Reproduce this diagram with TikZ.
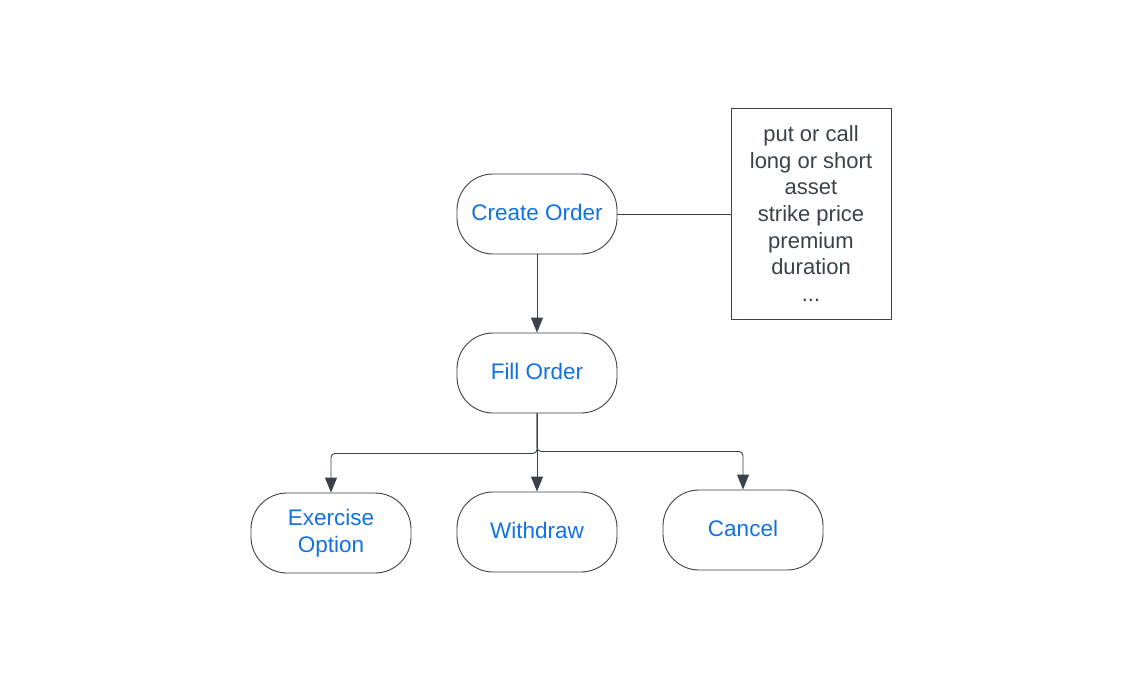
\documentclass[tikz,border=0pt]{standalone}
\usepackage{fontspec}
\setmainfont{Liberation Sans}
\usetikzlibrary{arrows.meta}
\definecolor{txtblue}{HTML}{1071E5}
\definecolor{ink}{HTML}{3A414A}
\begin{document}
\begin{tikzpicture}[x=1pt,y=-1pt,
  term/.style={draw=ink,line width=0.9pt,rounded corners=36pt,minimum width=160pt,minimum height=80pt,
    text=txtblue,font=\fontsize{22.5}{27}\selectfont,align=center,inner sep=0pt},
  conn/.style={draw=ink,line width=0.9pt,-{Triangle[length=15pt,width=12pt]},rounded corners=4pt},
  note/.style={draw=ink,line width=0.8pt,minimum width=160pt,minimum height=211pt,text=ink,
    font=\fontsize{22}{26.7}\selectfont,align=center,inner sep=0pt}]
\useasboundingbox (0,0) rectangle (1142,695);
\node[term] (create) at (537,214) {\raisebox{2.5pt}{Create Order}};
\node[term] (fill) at (537,373) {\raisebox{2.5pt}{Fill Order}};
\node[term] (exer) at (331,533) {Exercise\\Option};
\node[term] (with) at (537,532) {\raisebox{2.5pt}{Withdraw}};
\node[term] (cancel) at (743,530) {\raisebox{2.5pt}{Cancel}};
\node[note] (box) at (811,213.5) {put or call\\long or short\\asset\\strike price\\premium\\duration\\...};
\draw[draw=ink,line width=0.8pt] (create.east) -- (create.east -| box.west);
\draw[conn] (create) -- (fill);
\draw[conn] (fill.south) -- ++(0,40) -| (exer.north);
\draw[conn] (fill) -- (with);
\draw[conn] (fill.south) -- ++(0,38) -| (cancel.north);
\end{tikzpicture}
\end{document}
